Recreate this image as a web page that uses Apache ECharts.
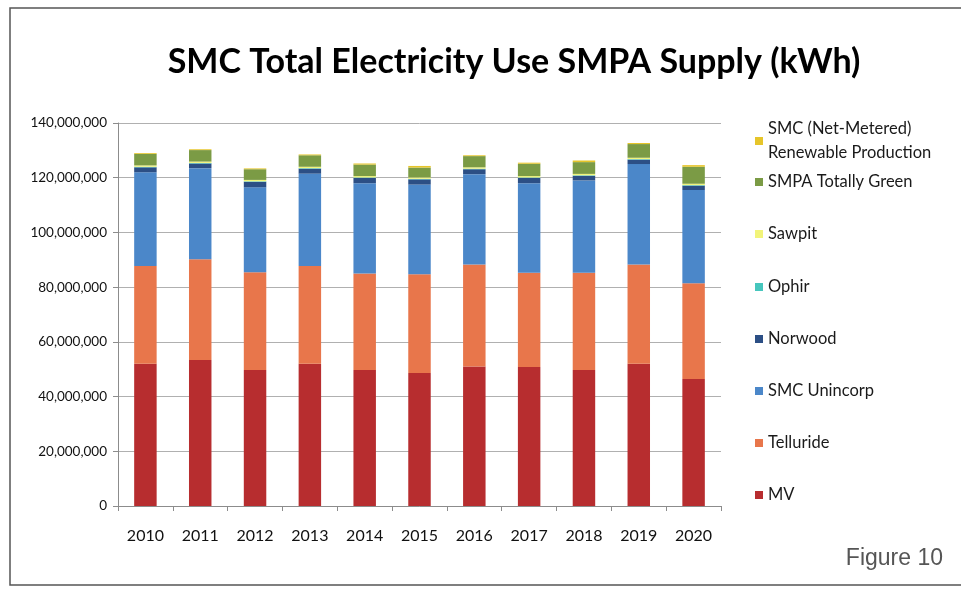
<!DOCTYPE html>
<html lang="en">
<head>
    <meta charset="UTF-8">
    <title>SMC Total Electricity Use SMPA Supply</title>
    <script src="https://cdn.jsdelivr.net/npm/echarts/dist/echarts.min.js"></script>
    <style>
        html, body { margin: 0; padding: 0; background: #fff; }
    </style>
</head>
<body>
    <div id="main" style="width: 961px; height: 591px;"></div>

    <script>
        // Data (kWh)
        var years = ['2010', '2011', '2012', '2013', '2014', '2015', '2016', '2017', '2018', '2019', '2020'];
        var mv         = [52000000, 53400000, 49700000, 52000000, 49700000, 48600000, 51000000, 50800000, 49700000, 52000000, 46400000];
        var telluride  = [35700000, 36800000, 35700000, 35700000, 35300000, 36100000, 37300000, 34500000, 35600000, 36300000, 35000000];
        var unincorp   = [34300000, 33300000, 31100000, 33800000, 33000000, 32800000, 33000000, 32700000, 33700000, 36700000, 34100000];
        var norwood    = [1800000, 1700000, 2000000, 1800000, 1900000, 1900000, 1800000, 1900000, 1700000, 1600000, 1600000];
        var ophir      = [200000, 200000, 200000, 200000, 200000, 200000, 200000, 200000, 200000, 200000, 200000];
        var sawpit     = [500000, 500000, 500000, 500000, 500000, 500000, 500000, 500000, 500000, 500000, 500000];
        var green      = [4200000, 4200000, 3900000, 4200000, 4200000, 3600000, 4100000, 4500000, 4300000, 5000000, 6200000];
        var netMetered = [300000, 300000, 300000, 300000, 400000, 600000, 300000, 400000, 600000, 400000, 600000];

        var seriesDefs = [
            { name: 'MV', data: mv, color: '#b72d2f' },
            { name: 'Telluride', data: telluride, color: '#e8764b' },
            { name: 'SMC Unincorp', data: unincorp, color: '#4b87c9' },
            { name: 'Norwood', data: norwood, color: '#2c4f85' },
            { name: 'Ophir', data: ophir, color: '#46c6bd' },
            { name: 'Sawpit', data: sawpit, color: '#f2f47a' },
            { name: 'SMPA Totally Green', data: green, color: '#7b9b45' },
            { name: 'SMC (Net-Metered)\nRenewable Production', data: netMetered, color: '#e6c52a' }
        ];

        var chart = echarts.init(document.getElementById('main'));
        var font = 'Lato, "Open Sans", sans-serif';

        // one legend per entry so the spacing matches the picture
        var legendTops = [112, 165, 217, 270, 322, 374, 426, 478];
        var legends = seriesDefs.slice().reverse().map(function (s, i) {
            return {
                data: [s.name],
                left: 750,
                top: legendTops[i],
                orient: 'vertical',
                icon: 'rect',
                itemWidth: 8,
                itemHeight: 8,
                itemGap: 0,
                selectedMode: false,
                textStyle: { fontFamily: font, fontSize: 16.5, color: '#1a1a1a', lineHeight: 24 }
            };
        });

        var option = {
            backgroundColor: '#fff',
            animation: false,
            title: {
                text: 'SMC Total Electricity Use SMPA Supply (kWh)',
                left: 509,
                top: 40,
                textAlign: 'center',
                textStyle: { fontFamily: font, fontSize: 34, fontWeight: 'bold', color: '#000' }
            },
            legend: legends,
            grid: { left: 118, right: 240, top: 123, bottom: 85 },
            xAxis: {
                type: 'category',
                data: years,
                axisLine: { lineStyle: { color: '#8c8c8c' } },
                axisTick: { show: true, length: 5, lineStyle: { color: '#8c8c8c' } },
                axisLabel: { fontFamily: font, fontSize: 16, color: '#111', margin: 22 }
            },
            yAxis: {
                type: 'value',
                min: 0,
                max: 140000000,
                interval: 20000000,
                axisLine: { show: true, lineStyle: { color: '#8c8c8c' } },
                axisTick: { show: true, length: 5, lineStyle: { color: '#8c8c8c' } },
                splitLine: { lineStyle: { color: '#b0b0b0' } },
                axisLabel: {
                    fontFamily: font, fontSize: 13.5, color: '#111', margin: 11,
                    formatter: function (v) { return v.toLocaleString('en-US'); }
                }
            },
            series: seriesDefs.map(function (s) {
                return {
                    name: s.name,
                    type: 'bar',
                    stack: 'total',
                    barWidth: '41%',
                    data: s.data,
                    itemStyle: { color: s.color }
                };
            }),
            graphic: [
                {
                    type: 'rect',
                    shape: { x: 10, y: 8, width: 960, height: 577 },
                    style: { fill: 'none', stroke: '#555', lineWidth: 1.5 },
                    silent: true
                },
                {
                    type: 'text',
                    right: 18,
                    top: 547,
                    style: { text: 'Figure 10', font: '23px "Liberation Sans", Arial, sans-serif', fill: '#555' }
                }
            ]
        };

        chart.setOption(option);
    </script>
</body>
</html>
